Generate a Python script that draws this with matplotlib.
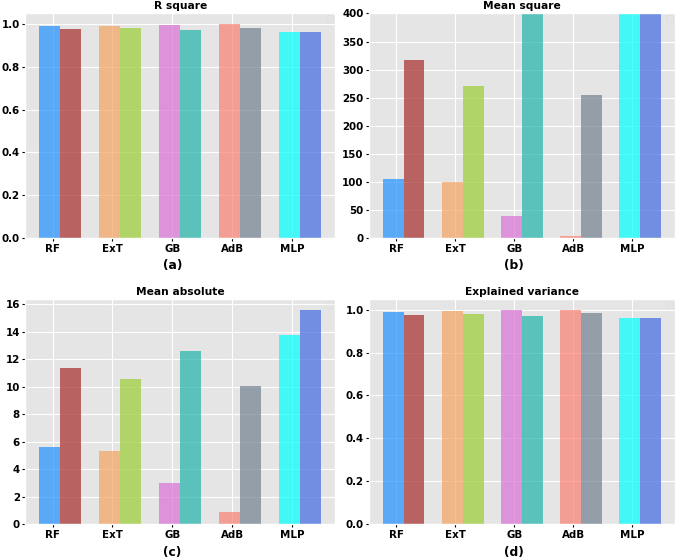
import numpy as np
import matplotlib
matplotlib.use('Agg')
from matplotlib import pyplot as plt
from matplotlib import transforms

plt.style.use('ggplot')

models = ['RF', 'ExT', 'GB', 'AdB', 'MLP']

# left bar / right bar of each model
r2_a = [0.992, 0.992, 0.997, 0.999, 0.961]
r2_b = [0.977, 0.981, 0.970, 0.983, 0.964]
mse_a = [106, 99.6, 39.7, 4.0, 520]
mse_b = [317.5, 271, 430, 254.8, 560]
mae_a = [5.64, 5.35, 3.0, 0.89, 13.77]
mae_b = [11.37, 10.55, 12.56, 10.04, 15.58]
ev_a = [0.991, 0.992, 0.997, 0.999, 0.961]
ev_b = [0.977, 0.980, 0.970, 0.982, 0.963]

colors_a = ['dodgerblue', 'sandybrown', 'orchid', 'salmon', 'cyan']
colors_b = ['brown', 'yellowgreen', 'lightseagreen', 'slategray', 'royalblue']

panels = [
    ('R square', '(a)', r2_a, r2_b, None),
    ('Mean square', '(b)', mse_a, mse_b, (0, 400)),
    ('Mean absolute', '(c)', mae_a, mae_b, None),
    ('Explained variance', '(d)', ev_a, ev_b, None),
]

rects = [
    [0.037, 0.574, 0.452, 0.402],
    [0.539, 0.574, 0.446, 0.402],
    [0.037, 0.062, 0.452, 0.403],
    [0.539, 0.062, 0.446, 0.403],
]

fig = plt.figure(figsize=(6.85, 5.59), dpi=100)
x = np.arange(len(models))
width = 0.35

for rect, (title, tag, va, vb, ylim) in zip(rects, panels):
    ax = fig.add_axes(rect)
    ax.bar(x - 0.22, va, width, align='edge', color=colors_a, alpha=0.7)
    ax.bar(x + 0.13, vb, width, align='edge', color=colors_b, alpha=0.7)
    if ylim:
        ax.set_ylim(*ylim)
    ax.set_xticks(x)
    ax.set_xticklabels(models)
    ax.set_title(title, fontsize=7.7, fontweight='bold', pad=3)
    ax.tick_params(labelsize=7.4, colors='black', length=2, pad=2)
    for lab in ax.get_xticklabels() + ax.get_yticklabels():
        lab.set_fontweight('bold')
    ax.set_xlabel(tag, fontsize=8.8, fontweight='bold', color='black')
    trans = transforms.blended_transform_factory(ax.transData, ax.transAxes)
    ax.xaxis.set_label_coords(2, -0.095, transform=trans)
    # empty legend box, as in the original
    ax.legend(handles=[], loc='upper right', borderpad=0.25,
              borderaxespad=0.15, framealpha=0.25)

fig.savefig('out.png', dpi=100)
